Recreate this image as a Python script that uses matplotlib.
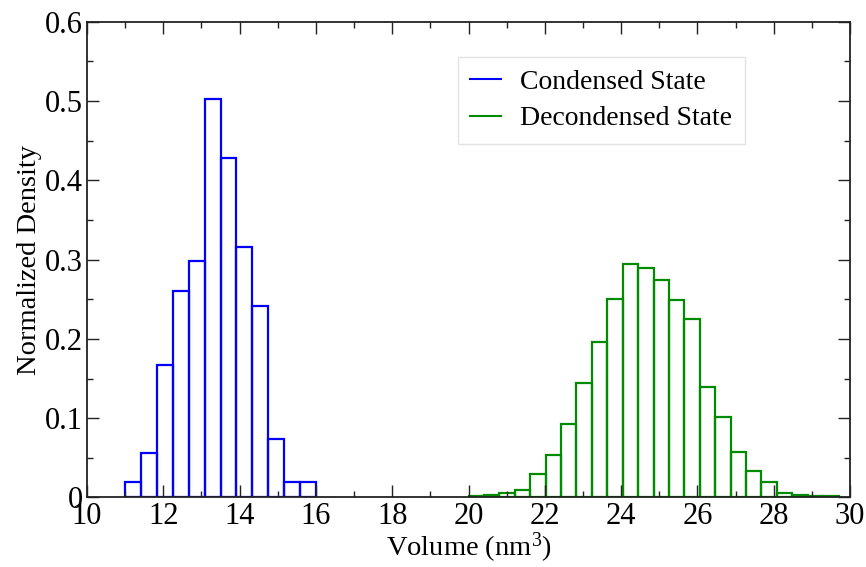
import numpy as np
import matplotlib
matplotlib.use("Agg")
import matplotlib.pyplot as plt
from matplotlib.lines import Line2D
from matplotlib.ticker import MultipleLocator, FuncFormatter

# ---------- Data ----------
condensed_edges = np.linspace(11.0, 16.0, 13)
condensed_density = [0.019, 0.056, 0.167, 0.260, 0.298, 0.502,
                     0.428, 0.316, 0.242, 0.074, 0.019, 0.019]

decondensed_edges = np.linspace(20.0, 29.7, 25)
decondensed_density = [0.002, 0.003, 0.006, 0.010, 0.030, 0.054, 0.093, 0.144,
                       0.196, 0.250, 0.294, 0.289, 0.274, 0.249, 0.225, 0.139,
                       0.101, 0.057, 0.033, 0.020, 0.006, 0.003, 0.002, 0.002]

labels = ["Condensed State", "Decondensed State"]
colors = ["#0000ff", "#008b00"]

# ---------- Style ----------
plt.rcParams["font.family"] = ["Liberation Serif", "DejaVu Serif"]
plt.rcParams["mathtext.default"] = "regular"

fig = plt.figure(figsize=(8.66, 5.67), dpi=100)
ax = fig.add_axes([0.1005, 0.1226, 0.881, 0.839])

for edges, dens, c in [(condensed_edges, condensed_density, colors[0]),
                       (decondensed_edges, decondensed_density, colors[1])]:
    ax.bar(edges[:-1], dens, width=np.diff(edges), align="edge",
           fill=False, edgecolor=c, linewidth=1.6)

ax.set_xlim(10, 30)
ax.set_ylim(0, 0.6)
ax.xaxis.set_major_locator(MultipleLocator(2))
ax.xaxis.set_minor_locator(MultipleLocator(1))
ax.yaxis.set_major_locator(MultipleLocator(0.1))
ax.yaxis.set_minor_locator(MultipleLocator(0.05))
ax.yaxis.set_major_formatter(FuncFormatter(lambda v, p: "0" if abs(v) < 1e-9 else f"{v:.1f}"))

ax.tick_params(which="both", direction="in", top=True, right=True,
               color="#222222", width=1.0)
ax.tick_params(which="major", length=8.6, labelsize=22, pad=3)
ax.tick_params(which="minor", length=4.3)
for s in ax.spines.values():
    s.set_linewidth(1.3)
    s.set_color("#222222")

ax.set_xlabel("Volume (nm$^{3}$)", fontsize=20.5, labelpad=0)
ax.set_ylabel("Normalized Density", fontsize=20.5, labelpad=2)

handles = [Line2D([0], [0], color=c, lw=1.5) for c in colors]
leg = ax.legend(handles, labels, loc="upper left", bbox_to_anchor=(0.486, 0.926),
                fontsize=20, frameon=True, fancybox=False, handlelength=1.1,
                handletextpad=0.7, borderpad=0.45, labelspacing=0.4,
                borderaxespad=0)
leg.get_frame().set_edgecolor("#dddddd")
leg.get_frame().set_linewidth(1.0)

fig.savefig("out.png", dpi=100)
